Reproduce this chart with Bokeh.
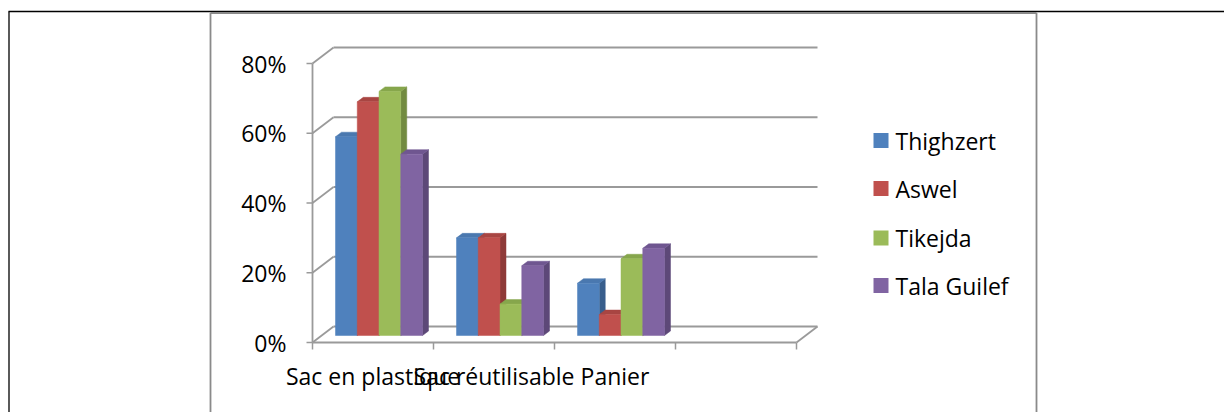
from bokeh.plotting import figure
from bokeh.models import Range1d
from bokeh.core.properties import value
from bokeh.embed import file_html
from bokeh.resources import INLINE

# ---------------- data ----------------
categories = ["Sac en plastique", "Sac réutilisable", "Panier"]
series_names = ["Thighzert", "Aswel", "Tikejda", "Tala Guilef"]
thighzert = [57, 28, 15]
aswel = [67, 28, 6]
tikejda = [70, 9, 22]
tala_guilef = [52, 20, 25]
series_values = [thighzert, aswel, tikejda, tala_guilef]
y_ticks = [0, 20, 40, 60, 80]
y_tick_labels = ["0%", "20%", "40%", "60%", "80%"]
n_slots = 4  # the category axis has one empty slot

# ---------------- style / layout ----------------
FONT = value("Open Sans")
FS = value("23px")
front_colors = ["#4F81BD", "#C0504D", "#9BBB59", "#8064A2"]
side_colors = ["#385E8C", "#8E3A38", "#728B40", "#5D4878"]
top_colors = ["#4A78AF", "#A84542", "#86A64C", "#6F5690"]
GRID = "#9a9a9a"

W, H = 1224, 412
AX_X, AX_Y = 312.0, 342.0      # px of the front axis origin
SLOT_PX, PCT_PX = 121.0, 3.4875


def dx(px):
    return px / SLOT_PX


def dy(px):
    return px / PCT_PX


p = figure(width=W, height=H, output_backend="svg", toolbar_location=None,
           x_range=Range1d(-AX_X / SLOT_PX, (W - AX_X) / SLOT_PX),
           y_range=Range1d(-(H - AX_Y) / PCT_PX, AX_Y / PCT_PX),
           x_axis_location=None, y_axis_location=None, min_border=0)
p.grid.visible = False
p.outline_line_color = None
p.background_fill_color = "white"
p.border_fill_color = "white"
p.extra_x_ranges = {"px": Range1d(0, W)}
p.extra_y_ranges = {"py": Range1d(H, 0)}

# page / chart frames
p.segment(x0=[8, 8.5], y0=[11, 11], x1=[W, 8.5], y1=[11, H],
          line_color="black", line_width=1.3, x_range_name="px", y_range_name="py")
p.segment(x0=[210, 210, 1036], y0=[12.5, 12.5, 12.5], x1=[1036, 210, 1036], y1=[12.5, H, H],
          line_color="#8a8a8a", line_width=1.8, x_range_name="px", y_range_name="py")

# 3D walls
DX, DY = dx(21), dy(16)
xmax = float(n_slots)
p.segment(x0=[0] * len(y_ticks), y0=y_ticks, x1=[DX] * len(y_ticks),
          y1=[v + DY for v in y_ticks], line_color=GRID, line_width=1.8)
p.segment(x0=[DX] * len(y_ticks), y0=[v + DY for v in y_ticks],
          x1=[xmax + DX] * len(y_ticks), y1=[v + DY for v in y_ticks],
          line_color=GRID, line_width=2)
p.segment(x0=[0, xmax], y0=[0, 0], x1=[xmax, xmax + DX], y1=[0, DY],
          line_color=GRID, line_width=1.8)
p.segment(x0=[0], y0=[0], x1=[0], y1=[max(y_ticks)], line_color=GRID, line_width=1.8)
p.segment(x0=[-dx(6)] * len(y_ticks), y0=y_ticks, x1=[0] * len(y_ticks), y1=y_ticks,
          line_color=GRID, line_width=1.5)
p.segment(x0=list(range(n_slots + 1)), y0=[0] * (n_slots + 1),
          x1=list(range(n_slots + 1)), y1=[-dy(7)] * (n_slots + 1),
          line_color=GRID, line_width=1.5)

# bars
GAP = dx(12.5)
BW = dx(21.75)
SX, SY = dx(10.5), dy(7)
BDX, BDY = dx(6), dy(4.5)
for c in range(len(categories)):
    for i, vals in enumerate(series_values):
        v = vals[c]
        L = c + GAP + i * BW + SX
        R = L + BW
        b = SY
        t = v + SY
        p.patch([R, R + BDX, R + BDX, R], [b, b + BDY, t + BDY, t],
                fill_color=side_colors[i], line_color=side_colors[i], line_width=0.5)
        p.patch([L, L + BDX, R + BDX, R], [t, t + BDY, t + BDY, t],
                fill_color=top_colors[i], line_color=top_colors[i], line_width=0.5)
        p.quad(left=[L], right=[R], bottom=[b], top=[t],
               fill_color=front_colors[i], line_color=front_colors[i], line_width=0.5)

# value tick labels
p.text(x=[286] * len(y_ticks), y=y_ticks, text=y_tick_labels, x_range_name="px",
       text_font=FONT, text_font_size=FS, text_align="right", text_baseline="middle",
       text_color="black")
# category labels
p.text(x=[c + 0.5 for c in range(len(categories))], y=[375] * len(categories),
       text=categories, y_range_name="py", text_font=FONT, text_font_size=FS,
       text_align="center", text_baseline="middle", text_color="black")

# legend
leg_y = [140, 188, 237.5, 285]
p.quad(left=[873] * 4, right=[888] * 4, bottom=[y + 7.5 for y in leg_y],
       top=[y - 7.5 for y in leg_y], fill_color=front_colors, line_color=None,
       x_range_name="px", y_range_name="py")
p.text(x=[895] * 4, y=leg_y, text=series_names, x_range_name="px", y_range_name="py",
       text_font=FONT, text_font_size=FS, text_align="left", text_baseline="middle",
       text_color="black")

open("out.html", "w").write(file_html(p, INLINE))
